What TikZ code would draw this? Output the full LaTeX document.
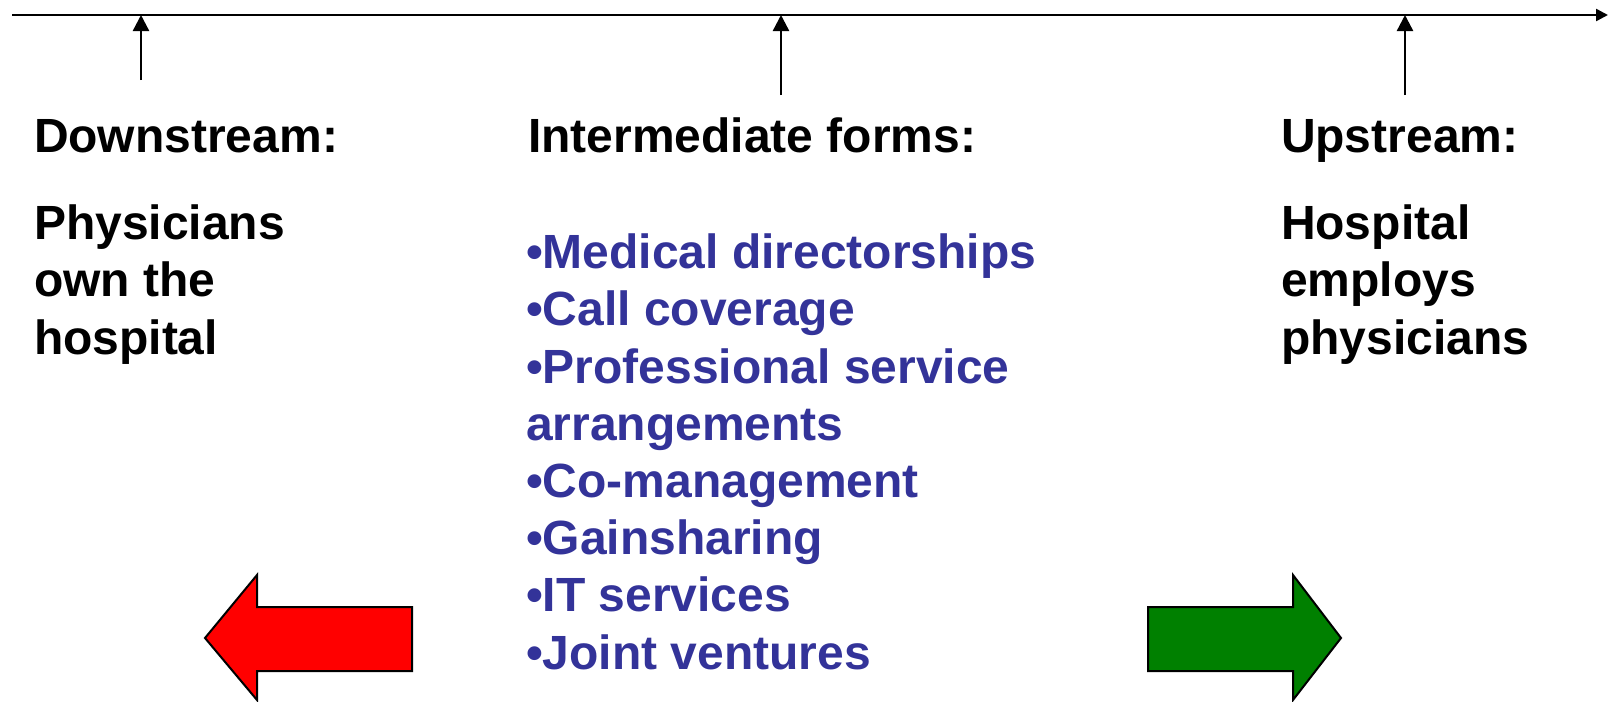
\documentclass[tikz,border=0pt]{standalone}
\usepackage{fontspec}
\setmainfont{Liberation Sans}
\usetikzlibrary{arrows.meta,positioning}

\definecolor{listblue}{RGB}{51,51,153}
\definecolor{downred}{RGB}{255,0,0}
\definecolor{upgreen}{RGB}{0,128,0}

\begin{document}
\begin{tikzpicture}[x=0.5pt,y=-0.5pt,
	every node/.style={inner sep=0pt,outer sep=0pt,anchor=base west},
	head/.style={font=\fontsize{24pt}{28.6pt}\selectfont\bfseries},
	body/.style={head,align=left},
	item list/.style={head,align=left,text=listblue},
	marker/.style={line width=1.2pt,-{Triangle[length=8pt,width=8pt]}},
	big arrow/.style={draw=black,line width=1pt,line join=miter}]

	\useasboundingbox (0,0) rectangle (1608,702);

	% time line
	\coordinate (axis start) at (12,15);
	\coordinate (axis end) at (1608,15);
	\draw [line width=1.2pt,-{Triangle[length=6pt,width=6pt]}] (axis start) -- (axis end);

	% markers on the line
	\coordinate (down foot) at (141,80);
	\coordinate (mid foot) at (781,95);
	\coordinate (up foot) at (1405,95);
	\draw [marker] (down foot) -- (down foot |- axis start);
	\draw [marker] (mid foot) -- (mid foot |- axis start);
	\draw [marker] (up foot) -- (up foot |- axis start);

	% the three columns (multi-line nodes sit on their last baseline)
	\node [head] (downstream) at (34,152) {Downstream:};
	\node [body] (physicians own) at (34,354) {Physicians\\own the\\hospital};
	\node [head] (intermediate) at (528,152) {Intermediate forms:};
	\node [item list] (forms) at (526,669) {•Medical directorships\\•Call coverage\\•Professional service\\arrangements\\•Co-management\\•Gainsharing\\•IT services\\•Joint ventures};
	\node [head] (upstream) at (1281,152) {Upstream:};
	\node [body] (hospital employs) at (1281,354) {Hospital\\employs\\physicians};

	% direction arrows
	\draw [big arrow,fill=downred] (412,607) -- (257,607) -- (257,575) -- (205,638) -- (257,700) -- (257,671) -- (412,671) -- cycle;
	\draw [big arrow,fill=upgreen] (1148,607) -- (1293,607) -- (1293,575) -- (1341,638) -- (1293,700) -- (1293,671) -- (1148,671) -- cycle;
\end{tikzpicture}
\end{document}
